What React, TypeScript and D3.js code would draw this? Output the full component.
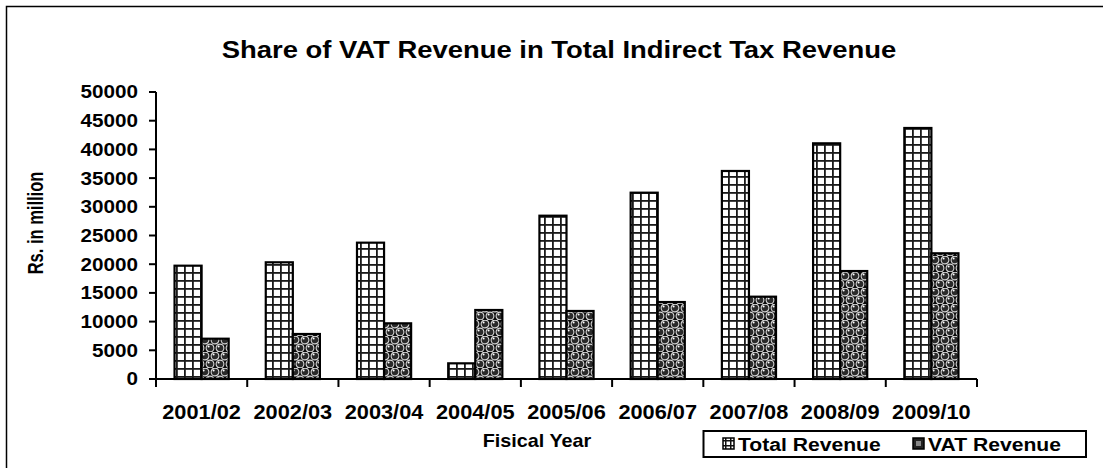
import React from "react";
import * as d3 from "d3";

const categories = ["2001/02", "2002/03", "2003/04", "2004/05", "2005/06", "2006/07", "2007/08", "2008/09", "2009/10"];
const totalRevenue = [19740, 20330, 23750, 2730, 28450, 32460, 36240, 41060, 43730];
const vatRevenue = [7020, 7840, 9700, 12020, 11850, 13410, 14340, 18810, 21900];
const seriesNames = ["Total Revenue", "VAT Revenue"];
const yTicks = [0, 5000, 10000, 15000, 20000, 25000, 30000, 35000, 40000, 45000, 50000];

const W = 1103;
const H = 468;
const FONT = "'Liberation Sans', Arial, Helvetica, sans-serif";
const SX = 1.1;

function sx(cx: number, s: number = SX) {
  return `translate(${cx},0) scale(${s},1) translate(${-cx},0)`;
}

export default function App() {
  const x = d3.scaleBand<string>().domain(categories).range([156, 977]).paddingInner(0).paddingOuter(0);
  const xs = d3.scaleBand<string>().domain(seriesNames).range([0, x.bandwidth()]).paddingInner(0).paddingOuter(0.685);
  const y = d3.scaleLinear().domain([0, 50000]).range([379, 92]);
  const seriesData = [totalRevenue, vatRevenue];
  const fills = ["url(#gridPat)", "url(#ballPat)"];

  return (
    <svg width={W} height={H} style={{ position: "absolute", left: 0, top: 0, background: "#fff" }}>
      <defs>
        <pattern id="gridPat" patternUnits="userSpaceOnUse" width="8" height="8">
          <rect width="8" height="8" fill="#fff" />
          <rect x="0" y="0" width="8" height="1.8" fill="#1a1a1a" />
          <rect x="0" y="0" width="1.8" height="8" fill="#1a1a1a" />
        </pattern>
        <pattern id="ballPat" patternUnits="userSpaceOnUse" width="10" height="16">
          <rect width="10" height="16" fill="#0a0a0a" />
          <circle cx="5" cy="4" r="3.9" fill="#2a2a2a" stroke="#d8d8d8" strokeWidth="1.1" />
          <circle cx="0" cy="12" r="3.9" fill="#2a2a2a" stroke="#d8d8d8" strokeWidth="1.1" />
          <circle cx="10" cy="12" r="3.9" fill="#2a2a2a" stroke="#d8d8d8" strokeWidth="1.1" />
          <circle cx="3.6" cy="2.6" r="1" fill="#fff" />
          <circle cx="8.6" cy="10.6" r="1" fill="#fff" />
        </pattern>
        <pattern id="gridPatSmall" patternUnits="userSpaceOnUse" width="5" height="5">
          <rect width="5" height="5" fill="#fff" />
          <rect x="0" y="0" width="5" height="1.5" fill="#111" />
          <rect x="0" y="0" width="1.5" height="5" fill="#111" />
        </pattern>
      </defs>
      <rect x={6.5} y={6.5} width={W + 20} height={H + 20} fill="none" stroke="#000" strokeWidth={1.5} />
      <text x={559} y={58} textAnchor="middle" fontFamily={FONT} fontWeight="bold" fontSize={24.5} transform={sx(559, 1.12)}>
        Share of VAT Revenue in Total Indirect Tax Revenue
      </text>

      {categories.map((c, i) => (
        <g key={c}>
          {seriesData.map((s, k) => {
            const bx = (x(c) as number) + (xs(seriesNames[k]) as number);
            return (
              <rect key={k} x={bx} y={y(s[i])} width={xs.bandwidth()} height={y(0) - y(s[i])} fill={fills[k]} stroke="#000" strokeWidth={2.2} />
            );
          })}
        </g>
      ))}

      <line x1={156} x2={156} y1={y(50000)} y2={y(0)} stroke="#000" strokeWidth={2} />
      {yTicks.map((t) => (
        <g key={t}>
          <line x1={149} x2={156} y1={y(t)} y2={y(t)} stroke="#000" strokeWidth={2} />
          <text x={138} y={y(t) + 6.5} textAnchor="end" fontFamily={FONT} fontWeight="bold" fontSize={18.8} transform={sx(138)}>
            {t}
          </text>
        </g>
      ))}
      <line x1={156} x2={977} y1={y(0)} y2={y(0)} stroke="#000" strokeWidth={2} />
      {d3.range(categories.length + 1).map((i) => {
        const tx = 156 + i * x.step();
        return <line key={i} x1={tx} x2={tx} y1={y(0)} y2={y(0) + 8} stroke="#000" strokeWidth={2} />;
      })}
      {categories.map((c) => {
        const cx = (x(c) as number) + x.bandwidth() / 2;
        return (
          <text key={c} x={cx} y={419} textAnchor="middle" fontFamily={FONT} fontWeight="bold" fontSize={19.8} transform={sx(cx)}>
            {c}
          </text>
        );
      })}
      <text x={537} y={447} textAnchor="middle" fontFamily={FONT} fontWeight="bold" fontSize={18} transform={sx(537)}>
        Fisical Year
      </text>
      <text fontFamily={FONT} fontWeight="bold" fontSize={16.5} textAnchor="middle" transform="translate(43,223) scale(1.38,1) rotate(-90)">
        Rs. in million
      </text>

      <rect x={703.5} y={431} width={382.5} height={26} fill="#fff" stroke="#000" strokeWidth={2} />
      <rect x={723} y={438} width={11} height={11} fill="url(#gridPatSmall)" stroke="#000" strokeWidth={1.5} />
      <text x={738} y={451.5} fontFamily={FONT} fontWeight="bold" fontSize={19.2} transform={sx(738)}>
        {seriesNames[0]}
      </text>
      <rect x={913} y={438} width={11} height={11} fill="#222" stroke="#000" strokeWidth={1.5} />
      <rect x={916} y={441} width={5} height={5} fill="#888" />
      <text x={928} y={451.5} fontFamily={FONT} fontWeight="bold" fontSize={19.2} transform={sx(928)}>
        {seriesNames[1]}
      </text>
    </svg>
  );
}
